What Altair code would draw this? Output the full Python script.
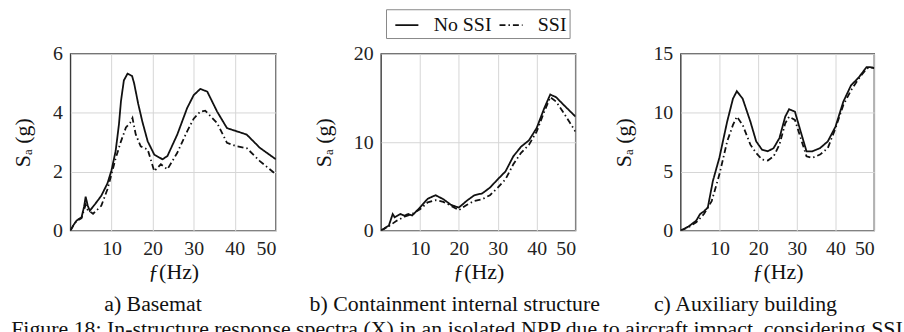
import altair as alt
import pandas as pd

FONT = "Liberation Serif"
INK = "#111111"

# ---- a) Basemat ----
basemat_f_nossi = [0, 0.8, 1.5, 2.7, 3.3, 3.7, 4.2, 4.7, 6.0, 7.5, 9.0, 10.0, 11.0, 11.8, 12.3,
                   13.0, 13.9, 15.0, 15.5, 16.5, 17.5, 18.8, 20.4, 22.4, 23.6, 26.0, 28.4, 30.0,
                   31.6, 33.3, 35.7, 38.1, 40.5, 42.9, 46.1, 50.0]
basemat_sa_nossi = [0, 0.2, 0.34, 0.45, 0.8, 1.15, 0.85, 0.67, 0.9, 1.18, 1.6, 2.05, 2.7, 3.6, 4.4,
                    5.1, 5.33, 5.25, 5.0, 4.3, 3.7, 3.03, 2.58, 2.42, 2.53, 3.26, 4.16, 4.6,
                    4.81, 4.72, 4.04, 3.48, 3.37, 3.26, 2.81, 2.42]
basemat_f_ssi = [0, 0.8, 1.5, 2.7, 3.3, 3.7, 4.2, 5.5, 7.5, 9.0, 10.0, 11.0, 12.3, 13.5, 14.5,
                 15.1, 15.9, 17.1, 18.8, 20.4, 22.0, 23.6, 26.0, 28.4, 30.0, 31.6, 32.8, 35.7,
                 38.1, 40.5, 42.9, 46.1, 50.0]
basemat_sa_ssi = [0, 0.2, 0.32, 0.42, 0.7, 0.88, 0.7, 0.57, 0.84, 1.4, 1.92, 2.45, 3.03, 3.5, 3.65,
                  3.82, 3.26, 2.86, 2.75, 2.02, 2.25, 2.08, 2.64, 3.37, 3.8, 4.04, 4.07, 3.65,
                  2.98, 2.86, 2.8, 2.36, 1.91]

# ---- b) Containment internal structure ----
cis_f_nossi = [0, 2, 3, 3.5, 5, 6, 7, 8, 10, 12, 14, 16, 18, 20, 22, 24, 26, 28, 30, 32, 34,
               36, 38, 40, 42, 43.5, 45, 47, 50]
cis_sa_nossi = [0, 0.56, 1.87, 1.5, 1.87, 1.68, 1.87, 1.7, 2.6, 3.6, 4.0, 3.55, 2.9, 2.6, 3.36,
                4.0, 4.2, 4.86, 5.8, 6.7, 8.4, 9.5, 10.2, 11.6, 13.9, 15.4, 15.1, 14.2, 12.9]
cis_f_ssi = [0, 2, 4, 6, 8, 10, 12, 14, 16, 18, 20, 22, 24, 26, 28, 30, 32, 34, 36, 38, 40,
             42, 43.5, 45, 47, 50]
cis_sa_ssi = [0, 0.5, 1.1, 1.57, 1.87, 2.4, 3.2, 3.44, 3.25, 2.8, 2.3, 2.9, 3.36, 3.55, 4.0,
              4.86, 5.8, 7.5, 8.8, 9.7, 11.2, 13.5, 15.1, 14.6, 13.3, 11.2]

# ---- c) Auxiliary building ----
aux_f_nossi = [0, 2, 4, 5, 6, 7, 8.3, 10, 12, 13.5, 14.5, 16, 18, 19.5, 21, 22.5, 24, 25.5,
               27, 28, 29.5, 31, 32.5, 34, 36, 38, 40, 42, 44, 46, 48, 49, 50]
aux_sa_nossi = [0, 0.34, 0.84, 1.4, 1.63, 1.96, 4.2, 6.2, 9.25, 11.2, 11.83, 11.2, 9.25, 7.57,
                6.87, 6.73, 7.0, 7.85, 9.67, 10.3, 10.1, 8.4, 6.73, 6.73, 7.0, 7.57, 8.83,
                10.93, 12.33, 13.0, 13.87, 13.87, 13.8]
aux_f_ssi = [0, 2, 4, 6, 8, 10, 12, 13.5, 14.5, 16, 18, 19.5, 21, 22.5, 24, 25.5, 27, 28,
             29.5, 31, 32.5, 34, 36, 38, 40, 42, 44, 46, 48, 49, 50]
aux_sa_ssi = [0, 0.28, 0.7, 1.4, 2.5, 4.77, 7.57, 8.97, 9.67, 8.97, 7.29, 6.59, 6.03, 5.94,
              6.3, 7.29, 9.1, 9.67, 9.4, 7.85, 6.3, 6.17, 6.45, 7.0, 8.7, 10.65, 11.9, 12.9,
              13.74, 13.87, 13.8]

cases = ["No SSI", "SSI"]
x_ticks = [10, 20, 30, 40, 50]
caption = ("Figure 18: In-structure response spectra (X) in an isolated NPP due to aircraft "
           "impact, considering SSI")


def spectra(f_ns, s_ns, f_s, s_s):
    ns = pd.DataFrame({"f": f_ns, "Sa": s_ns, "case": cases[0]})
    ss = pd.DataFrame({"f": f_s, "Sa": s_s, "case": cases[1]})
    return pd.concat([ns, ss], ignore_index=True)


def panel(df, width, ymax, yticks, label, label_dx):
    return alt.Chart(df).mark_line(strokeWidth=1.8, color=INK, clip=True).encode(
        x=alt.X("f:Q", scale=alt.Scale(domain=[0, 50], nice=False),
                axis=alt.Axis(values=x_ticks, title="ƒ(Hz)")),
        y=alt.Y("Sa:Q", scale=alt.Scale(domain=[0, ymax], nice=False),
                axis=alt.Axis(values=yticks, title="Sₐ (g)")),
        strokeDash=alt.StrokeDash(
            "case:N",
            scale=alt.Scale(domain=cases, range=[[1, 0], [6, 3, 1.5, 3]]),
            legend=alt.Legend(orient="none", legendX=318, legendY=-45,
                              direction="horizontal", title=None),
        ),
        order=alt.Order("f:Q"),
    ).properties(
        width=width, height=178,
        title=alt.TitleParams(label, orient="bottom", anchor="start", frame="group",
                              dx=label_dx, offset=12, font=FONT, fontSize=22,
                              fontWeight="normal", color=INK),
    )


a = panel(spectra(basemat_f_nossi, basemat_sa_nossi, basemat_f_ssi, basemat_sa_ssi),
          207, 6, [0, 2, 4, 6], "a) Basemat", 34)
b = panel(spectra(cis_f_nossi, cis_sa_nossi, cis_f_ssi, cis_sa_ssi),
          196, 20, [0, 10, 20], "b) Containment internal structure", -72)
c = panel(spectra(aux_f_nossi, aux_sa_nossi, aux_f_ssi, aux_sa_ssi),
          195, 15, [0, 5, 10, 15], "c) Auxiliary building", -27)

chart = alt.hconcat(a, b, c, spacing=106, bounds="flush").properties(
    padding={"left": 11, "top": 7, "right": 0, "bottom": 0},
    title=alt.TitleParams(caption, orient="bottom", anchor="start", dx=0, offset=4,
                          font=FONT, fontSize=22, fontWeight="normal", color=INK),
).configure(
    font=FONT,
).configure_view(
    stroke="#3a3a3a", strokeWidth=1.4,
).configure_axis(
    labelFont=FONT, labelFontSize=20, labelColor="#222222",
    titleFont=FONT, titleFontSize=22, titleFontWeight="normal", titleColor=INK,
    ticks=False, domain=False, grid=True, gridColor="#d6d6d6", gridWidth=1,
    labelPadding=8,
).configure_axisX(
    titlePadding=3,
).configure_axisY(
    titlePadding=18,
).configure_legend(
    labelFont=FONT, labelFontSize=20, labelColor=INK,
    symbolType="stroke", symbolSize=540, symbolStrokeWidth=1.8, symbolStrokeColor=INK,
    symbolOffset=5, strokeColor="#888888", fillColor="white", padding=3,
    labelOffset=14, columnPadding=1,
).configure_title(
    font=FONT,
)

chart.save("out.html", embed_options={"renderer": "svg", "actions": False})
